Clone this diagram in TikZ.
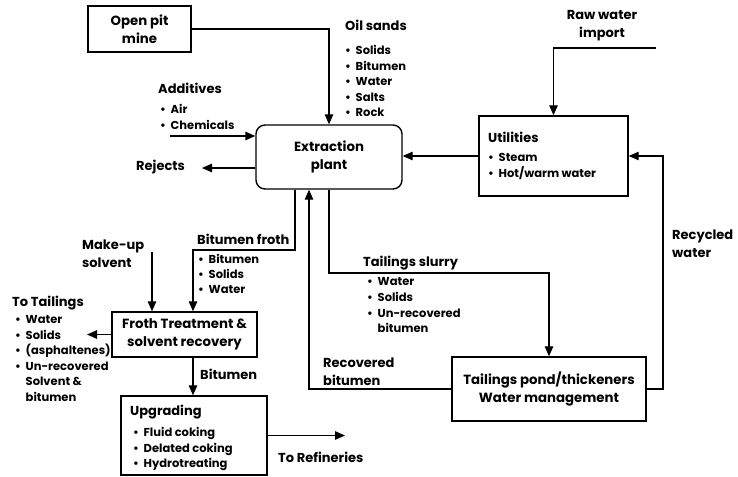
\documentclass[tikz,border=0pt]{standalone}
\usepackage{fontspec}
\setmainfont{Poppins}
\usetikzlibrary{arrows.meta}
\newcommand\itembul{\makebox[10.5pt][l]{\textbullet}}
\newcommand\itemind{\hspace*{10.5pt}}
\begin{document}
\begin{tikzpicture}[x=1pt,y=-1pt,
  flow/.style={line width=1.3pt},
  arr/.style={flow,-{Triangle[length=10pt,width=8.5pt]}},
  boxed/.style={draw,line width=1.4pt,inner sep=0,align=center,
    font=\bfseries\fontsize{13.3}{18}\selectfont},
  ttl/.style={inner sep=0,font=\bfseries\fontsize{13}{18}\selectfont},
  lst/.style={inner sep=0,align=left,anchor=north west,
    font=\bfseries\fontsize{11.5}{15.5}\selectfont},
  two/.style={inner sep=0,align=left,anchor=north west,
    font=\bfseries\fontsize{13}{18}\selectfont}]
\useasboundingbox (0,0) rectangle (738,476);

% boxes
\node[boxed,minimum width=103pt,minimum height=46pt] (mine) at (139.5,29) {Open pit\\mine};
\node[boxed,rounded corners=9pt,minimum width=146pt,minimum height=64pt] (ext) at (329,157) {Extraction\\plant};
\node[boxed,minimum width=149pt,minimum height=80pt] (util) at (553.5,156) {};
\node[boxed,minimum width=194pt,minimum height=64pt] (tail) at (549,389) {Tailings pond/thickeners\\Water management};
\node[boxed,minimum width=145pt,minimum height=45pt] (froth) at (184.5,334.5) {Froth Treatment \&\\solvent recovery};
\node[boxed,minimum width=146pt,minimum height=79pt] (upg) at (194,435.5) {};

% texts
\node[ttl,anchor=mid west] (oilt) at (345,28) {Oil sands};
\node[lst] (oill) at (345,45.5) {\itembul Solids\\\itembul Bitumen\\\itembul Water\\\itembul Salts\\\itembul Rock};
\node[ttl,anchor=mid west] (addt) at (158,91) {Additives};
\node[lst,font=\bfseries\fontsize{11.5}{16}\selectfont] (addl) at (160,104.5) {\itembul Air\\\itembul Chemicals};
\node[ttl,anchor=mid west] (rej) at (136,168) {Rejects};
\node[ttl,align=center] (raw) at (602,26) {Raw water\\import};
\node[ttl,anchor=mid west] (utilt) at (488,140) {Utilities};
\node[lst,font=\bfseries\fontsize{11.5}{16}\selectfont] (utill) at (488,153.5) {\itembul Steam\\\itembul Hot/warm water};
\node[two] (rec) at (672,230) {Recycled\\water};
\node[two] (mkup) at (82,240) {Make-up\\solvent};
\node[ttl,anchor=mid west] (bft) at (197,242) {Bitumen froth};
\node[lst,font=\bfseries\fontsize{11.5}{15}\selectfont] (bfl) at (198,254.5) {\itembul Bitumen\\\itembul Solids\\\itembul Water};
\node[ttl,anchor=mid west] (ttt) at (12,304) {To Tailings};
\node[lst] (ttl2) at (15,315.5) {\itembul Water\\\itembul Solids\\\itembul (asphaltenes)\\\itembul Un-recovered\\\itemind Solvent \&\\\itemind bitumen};
\node[ttl,anchor=mid west] (bitl) at (200,377) {Bitumen};
\node[ttl,anchor=mid west] (upgt) at (130,413) {Upgrading};
\node[lst] (upgl) at (133,427.5) {\itembul Fluid coking\\\itembul Delated coking\\\itembul Hydrotreating};
\node[ttl,anchor=mid west] (refl) at (278,460) {To Refineries};
\node[ttl,anchor=mid west] (tst) at (363,264) {Tailings slurry};
\node[lst,font=\bfseries\fontsize{11.5}{15.7}\selectfont] (tsl) at (367,277.5) {\itembul Water\\\itembul Solids\\\itembul Un-recovered\\\itemind bitumen};
\node[two,font=\bfseries\fontsize{13}{17.5}\selectfont] (recb) at (323,358) {Recovered\\bitumen};

% coordinates
\coordinate (addst) at (170,136);
\coordinate (rejend) at (202,168);
\coordinate (rawst) at (656,48);
\coordinate (ts) at (329,273);
\coordinate (bf1) at (295,250);
\coordinate (bf2) at (193,250);
\coordinate (rb) at (309,389);
\coordinate (rw) at (663,389);
\coordinate (mu) at (152,252);
\coordinate (tt) at (87,334.5);
\coordinate (refend) at (345,435.5);

% connectors
\draw[arr] (mine.east) -| (ext.north);
\draw[arr] (addst) -- (ext.west |- addst);
\draw[arr] (ext.west |- rejend) -- (rejend);
\draw[arr] (util.west) -- (ext.east |- util.west);
\draw[arr] (rawst) -| (util.north);
\draw[arr] (tail.east) -- (rw) |- (util.east);
\draw[arr] (ext.south) -- (ts) -| (tail.north);
\draw[arr] (bf1 |- ext.south) -- (bf1) -- (bf2) -- (bf2 |- froth.north);
\draw[arr] (tail.west) -- (rb) -- (rb |- ext.south);
\draw[arr] (mu) -- (mu |- froth.north);
\draw[arr] (froth.west) -- (tt);
\draw[arr] (bf2 |- froth.south) -- (bf2 |- upg.north);
\draw[arr] (upg.east) -- (refend);
\end{tikzpicture}
\end{document}
